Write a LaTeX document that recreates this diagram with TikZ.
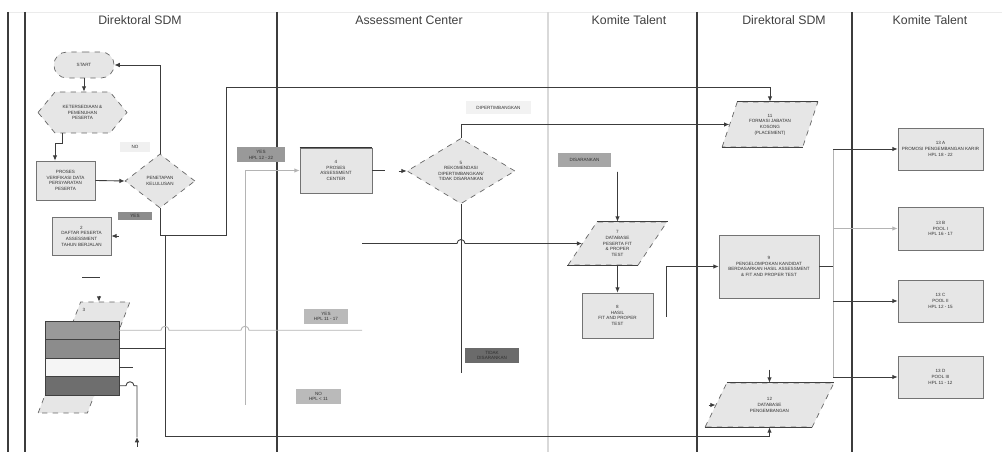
\documentclass[tikz,border=0pt]{standalone}
\usepackage{fontspec}
\setmainfont{Liberation Sans}
\usetikzlibrary{shapes.geometric,shapes.misc,arrows.meta}

\definecolor{boxgray}{HTML}{E6E6E6}
\definecolor{linedark}{HTML}{3C3C3C}
\definecolor{linelight}{HTML}{B4B4B4}
\definecolor{txtgray}{HTML}{303030}
\newcommand\boxfont{\fontsize{2.6}{3.2}\selectfont}
\newcommand\headfont{\fontsize{7}{8}\selectfont}

\tikzset{
  lane/.style={draw=linedark,line width=0.6pt},
  flow/.style={draw=linedark,line width=0.5pt},
  flowlt/.style={draw=linelight,line width=0.5pt},
  arr/.style={-{Latex[length=3pt,width=2.6pt]}},
  procbox/.style={rectangle,draw=black!55,fill=boxgray,line width=0.4pt,
    inner sep=0.5pt,align=center,font=\boxfont,text=txtgray},
  decision/.style={diamond,draw=black!60,dashed,fill=boxgray,line width=0.4pt,
    inner sep=0pt,align=center,font=\boxfont,text=txtgray},
  datashape/.style={trapezium,trapezium stretches=true,draw=black!60,dashed,
    fill=boxgray,line width=0.4pt,inner sep=0.5pt,align=center,font=\boxfont,text=txtgray},
  tag/.style={rectangle,inner sep=0.5pt,align=center,font=\boxfont,text=txtgray},
  band/.style={rectangle,draw=black!75,line width=0.5pt,minimum width=1.48cm,minimum height=0.37cm},
  lanehead/.style={font=\headfont,text=black!75},
}

\begin{document}
\begin{tikzpicture}[x=0.02cm,y=-0.02cm]
\useasboundingbox (0,0) rectangle (1002,452);

% swimlanes
\draw[draw=black!8] (8,12) -- (1002,12);
\draw[lane,line width=1pt] (8,12) -- (8,452);
\foreach \x in {25,277,697,852}
  \draw[lane] (\x,12) -- (\x,452);
\draw[lane,draw=black!15] (548,12) -- (548,452);
\node[lanehead] (h1) at (140,20) {Direktoral SDM};
\node[lanehead] (h2) at (409,20) {Assessment Center};
\node[lanehead] (h3) at (629,20) {Komite Talent};
\node[lanehead] (h4) at (784,20) {Direktoral SDM};
\node[lanehead] (h5) at (930,20) {Komite Talent};

% lane 1
\node[rounded rectangle,draw=black!60,dashed,fill=boxgray,line width=0.4pt,
  minimum width=1.44cm,minimum height=0.52cm,font=\boxfont,text=txtgray] (start) at (84,65) {START};
\path[draw=black!60,dashed,fill=boxgray,line width=0.4pt]
  (38,112.5) -- (55,92) -- (110,92) -- (127,112.5) -- (110,133) -- (55,133) -- cycle;
\node[tag,minimum width=1.78cm,minimum height=0.82cm] (avail) at (82.5,112.5)
  {KETERSEDIAAN \&\\PEMENUHAN\\PESERTA};
\node[procbox,minimum width=1.18cm,minimum height=0.78cm] (verif) at (65.5,180.5)
  {PROSES\\VERIFIKASI DATA\\PERSYARATAN\\PESERTA};
\node[decision,minimum width=1.4cm,minimum height=1.08cm] (pass) at (160,181)
  {PENETAPAN\\KELULUSAN};
\node[procbox,minimum width=1.18cm,minimum height=0.76cm] (list2) at (81.5,236)
  {2\\DAFTAR PESERTA\\ASSESSMENT\\TAHUN BERJALAN};
\node[tag,fill=black!6,minimum width=0.6cm,minimum height=0.2cm] (tno) at (135,147) {NO};
\node[tag,fill=black!45,minimum width=0.68cm,minimum height=0.17cm] (tyes) at (135,216) {YES};

\node[datashape,trapezium left angle=75,trapezium right angle=105,
  minimum width=1.84cm,minimum height=2.22cm] (p3) at (84,357.5) {3\\[1.8cm]\mbox{}};
\node[band,fill=black!40] (band1) at (82,330.25) {};
\node[band,fill=black!45] (band2) at (82,348.75) {};
\node[band,fill=black!4] (band3) at (82,367.25) {};
\node[band,fill=black!57] (band4) at (82,385.75) {};

% lane 2
\node[procbox,minimum width=1.44cm,minimum height=0.9cm] (ac) at (336,170.5)
  {4\\PROSES\\ASSESSMENT\\CENTER};
\draw[line width=0.8pt,draw=black!80] (ac.north west) -- (ac.north east);
\node[decision,minimum width=2.16cm,minimum height=1.12cm] (rec) at (461,171)
  {5\\REKOMENDASI\\DIPERTIMBANGKAN/\\TIDAK DISARANKAN};
\node[tag,fill=black!40,minimum width=0.96cm,minimum height=0.3cm] (thpla) at (261,155)
  {YES\\HPL 12 - 22};
\node[tag,fill=black!27,minimum width=0.88cm,minimum height=0.3cm] (thplb) at (326,316.5)
  {YES\\HPL 11 - 17};
\node[tag,fill=black!27,minimum width=0.9cm,minimum height=0.3cm] (thplc) at (318.5,396.5)
  {NO\\HPL < 11};
\node[tag,fill=black!5,minimum width=1.32cm,minimum height=0.26cm] (tcons) at (498.5,108)
  {DIPERTIMBANGKAN};
\node[tag,fill=black!58,minimum width=1.08cm,minimum height=0.3cm] (tnot) at (492,355.5)
  {TIDAK\\DISARANKAN};

% lane 3
\node[tag,fill=black!35,minimum width=1.08cm,minimum height=0.28cm] (trec) at (584.5,160)
  {DISARANKAN};
\node[datashape,trapezium left angle=52,trapezium right angle=128,
  minimum width=1.98cm,minimum height=0.86cm] (p7) at (617.5,243.5)
  {7\\DATABASE\\PESERTA FIT\\\& PROPER\\TEST};
\node[procbox,minimum width=1.42cm,minimum height=0.9cm] (fit) at (617.5,315.5)
  {8\\HASIL\\FIT AND PROPER\\TEST};

% lane 4
\node[datashape,trapezium left angle=66,trapezium right angle=114,
  minimum width=1.92cm,minimum height=0.9cm] (p11) at (770,124.5)
  {11\\FORMASI JABATAN\\KOSONG\\(PLACEMENT)};
\node[procbox,minimum width=2cm,minimum height=1.26cm] (cand) at (769,266.5)
  {9\\PENGELOMPOKAN KANDIDAT\\BERDASARKAN HASIL ASSESSMENT\\\& FIT AND PROPER TEST};
\node[datashape,trapezium left angle=57.5,trapezium right angle=122.5,
  minimum width=2.58cm,minimum height=0.88cm] (p12) at (769.5,405)
  {12\\DATABASE\\PENGEMBANGAN};
\foreach \p in {p7,p11,p12}
  \draw[draw=black!75,line width=0.5pt] (\p.top left corner) -- (\p.top right corner)
    (\p.bottom left corner) -- (\p.bottom right corner);

% lane 5
\node[procbox,minimum width=1.7cm,minimum height=0.84cm] (hA) at (940.5,149)
  {13 A\\PROMOSI PENGEMBANGAN KARIR\\HPL 18 - 22};
\node[procbox,minimum width=1.7cm,minimum height=0.86cm] (hB) at (940.5,228.5)
  {13 B\\POOL I\\HPL 16 - 17};
\node[procbox,minimum width=1.7cm,minimum height=0.84cm] (hC) at (940.5,301)
  {13 C\\POOL II\\HPL 12 - 15};
\node[procbox,minimum width=1.7cm,minimum height=0.84cm] (hD) at (940.5,377)
  {13 D\\POOL III\\HPL 11 - 12};

% connectors
\coordinate (yesend) at (160,235);
\coordinate (k1) at (165,235);
\coordinate (k2) at (226,235);
\coordinate (k3) at (226,87);
\draw[flow,arr] (start.south) -- (start.south |- avail.north);
\draw[flow,arr] ([xshift=-0.4cm]avail.south) -- ++(0,-0.2cm) -| ([xshift=-0.21cm]verif.north);
\draw[flow,arr] (verif.east) -- (pass.west);
\draw[flow,arr] (pass.north) |- (start.east);
\draw[flow] (pass.south) -- (yesend) -- (k2) -- (k3);
\draw[flow,arr] (k3) -| (p11.north);
\draw[flow,arr] ([xshift=0.15cm]list2.east) -- (list2.east);
\draw[flow,arr] (k1) -- (165,436) -| (p12.south);
\draw[flow] (82,277) -- (100,277);
\draw[flow,arr] ([xshift=0.3cm,yshift=0.12cm]p3.north) -- ([xshift=0.3cm]p3.north);

\draw[flowlt] (band1.east) -- (161,330.25) arc[start angle=180,end angle=0,radius=0.08cm]
  -- (241,330.25) arc[start angle=180,end angle=0,radius=0.08cm] -- (362,330.25);
\draw[flow] (band2.east) -- (band2.east -| k1);
\draw[flow] (band3.east) -- ++(0.28cm,0);
\draw[flow] (band4.east) -- (126,385.75) arc[start angle=180,end angle=0,radius=0.08cm]
  -- (137,385.75) -- (137,437);
\draw[flow,arr] (137,447) -- (137,437);

\draw[flowlt,arr] (245,405) |- (ac.west);
\draw[flow] (ac.east) -- ++(0.26cm,0);
\draw[flow,arr] ([xshift=-0.16cm]rec.west) -- (rec.west);
\draw[flow,arr] (rec.north) |- (p11.west);
\draw[flow] (rec.south) -- (461,373);
\draw[flow,arr] (362,243.5) -- (457,243.5) arc[start angle=180,end angle=0,radius=0.08cm]
  -- (p7.west);

\draw[flow,arr] (617.5,172) -- (p7.north);
\draw[flow,arr] (p7.south) -- (fit.north);
\draw[flow,arr] (666,317) |- (cand.west);

\draw[flow] (cand.east) -- (833,266.5);
\draw[flowlt] (833,149) -- (833,377);
\draw[flow,arr] (833,149) -- (hA.west);
\draw[flowlt,arr] (833,228.5) -- (hB.west);
\draw[flow,arr] (833,301) -- (hC.west);
\draw[flow,arr] (833,377) -- (hD.west);

\draw[flow,arr] ([yshift=0.26cm]p12.north) -- (p12.north);
\draw[flow,arr] ([xshift=-0.14cm]p12.west) -- (p12.west);
\end{tikzpicture}
\end{document}
